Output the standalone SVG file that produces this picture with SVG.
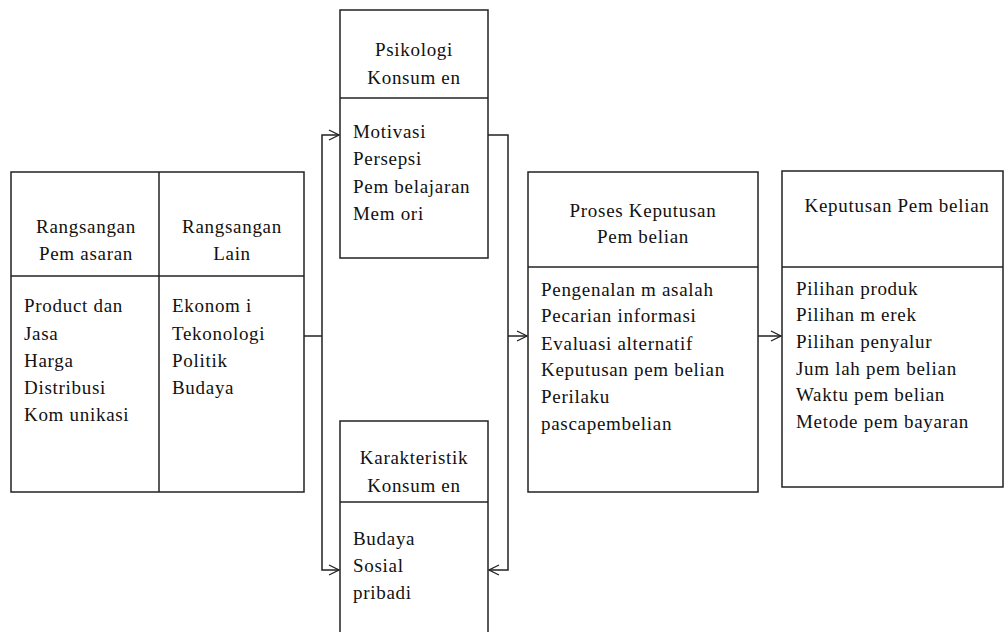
<svg xmlns="http://www.w3.org/2000/svg" width="1005" height="632" viewBox="0 0 1005 632">
<style>
.box{fill:#fff;stroke:#222;stroke-width:1.5}
.ln{fill:none;stroke:#222;stroke-width:1.5}
text{font-family:"Liberation Serif","Times New Roman",serif;font-size:19px;letter-spacing:0.7px;fill:#111}
.c{text-anchor:middle}
</style>
<defs>
<marker id="arr" viewBox="0 0 12 12" refX="11" refY="6" markerWidth="12" markerHeight="12" markerUnits="userSpaceOnUse" orient="auto">
<polyline points="1,1 11,6 1,11" fill="none" stroke="#222" stroke-width="1.3"/>
</marker>
</defs>
<rect width="1005" height="632" fill="#fff"/>
<g id="connectors">
<polyline class="ln" points="304,336 322,336"/>
<polyline class="ln" points="322,336 322,135 339,135" marker-end="url(#arr)"/>
<polyline class="ln" points="322,336 322,570 339,570" marker-end="url(#arr)"/>
<polyline class="ln" points="488,135 508,135 508,570 489,570" marker-end="url(#arr)"/>
<polyline class="ln" points="508,336 527,336" marker-end="url(#arr)"/>
<polyline class="ln" points="758,336 781,336" marker-end="url(#arr)"/>
</g>
<g id="rangsangan">
<rect class="box" x="11" y="172" width="293" height="320"/>
<line class="ln" x1="159" y1="172" x2="159" y2="492"/>
<line class="ln" x1="11" y1="276" x2="304" y2="276"/>
<text class="c" x="86" y="233">Rangsangan</text>
<text class="c" x="86" y="260">Pem asaran</text>
<text class="c" x="232" y="233">Rangsangan</text>
<text class="c" x="232" y="260">Lain</text>
<text x="24" y="312">Product dan</text>
<text x="24" y="340">Jasa</text>
<text x="24" y="367">Harga</text>
<text x="24" y="394">Distribusi</text>
<text x="24" y="421">Kom unikasi</text>
<text x="172" y="312">Ekonom i</text>
<text x="172" y="340">Tekonologi</text>
<text x="172" y="367">Politik</text>
<text x="172" y="394">Budaya</text>
</g>
<g id="psikologi">
<rect class="box" x="340" y="10" width="148" height="248"/>
<line class="ln" x1="340" y1="98" x2="488" y2="98"/>
<text class="c" x="414" y="56">Psikologi</text>
<text class="c" x="414" y="84">Konsum en</text>
<text x="353" y="138">Motivasi</text>
<text x="353" y="165">Persepsi</text>
<text x="353" y="193">Pem belajaran</text>
<text x="353" y="220">Mem ori</text>
</g>
<g id="karakteristik">
<rect class="box" x="340" y="421" width="148" height="215"/>
<line class="ln" x1="340" y1="502" x2="488" y2="502"/>
<text class="c" x="414" y="464">Karakteristik</text>
<text class="c" x="414" y="492">Konsum en</text>
<text x="353" y="545">Budaya</text>
<text x="353" y="572">Sosial</text>
<text x="353" y="599">pribadi</text>
</g>
<g id="proses">
<rect class="box" x="528" y="172" width="230" height="320"/>
<line class="ln" x1="528" y1="267" x2="758" y2="267"/>
<text class="c" x="643" y="217">Proses Keputusan</text>
<text class="c" x="643" y="243">Pem belian</text>
<text x="541" y="296">Pengenalan m asalah</text>
<text x="541" y="322">Pecarian informasi</text>
<text x="541" y="350">Evaluasi alternatif</text>
<text x="541" y="376">Keputusan pem belian</text>
<text x="541" y="403">Perilaku</text>
<text x="541" y="430">pascapembelian</text>
</g>
<g id="keputusan">
<rect class="box" x="782" y="171" width="221" height="316"/>
<line class="ln" x1="782" y1="267" x2="1003" y2="267"/>
<text class="c" x="897" y="212">Keputusan Pem belian</text>
<text x="796" y="295">Pilihan produk</text>
<text x="796" y="321">Pilihan m erek</text>
<text x="796" y="348">Pilihan penyalur</text>
<text x="796" y="375">Jum lah pem belian</text>
<text x="796" y="401">Waktu pem belian</text>
<text x="796" y="428">Metode pem bayaran</text>
</g>
</svg>
